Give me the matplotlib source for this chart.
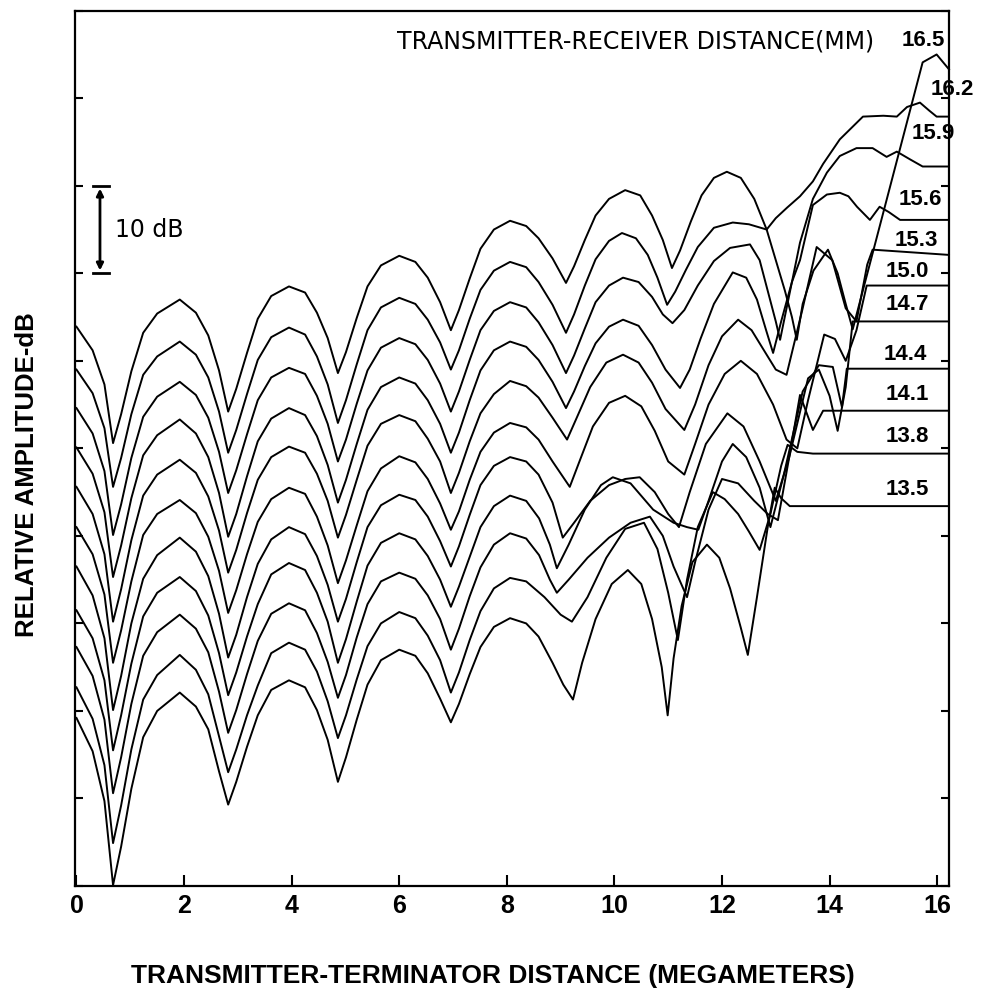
import matplotlib
matplotlib.use("Agg")
import matplotlib.pyplot as plt

# ---------------- data (x in megameters, y in dB, arbitrary reference) -------------
labels = ["16.5", "16.2", "15.9", "15.6", "15.3", "15.0", "14.7", "14.4", "14.1", "13.8", "13.5"]

x_left = [0.0, 0.3, 0.52, 0.68, 0.83, 1.02, 1.24, 1.5, 1.92, 2.22, 2.45, 2.65, 2.82,
          2.97, 3.17, 3.37, 3.62, 3.95, 4.25, 4.47, 4.67, 4.86,
          5.01, 5.21, 5.41, 5.66, 6.0, 6.3, 6.53, 6.76, 6.96,
          7.11, 7.31, 7.51, 7.76, 8.06, 8.36]

y_left_165 = [63.9, 61.2, 57.3, 50.6, 53.9, 58.8, 63.2, 65.4, 67.0, 65.5, 62.9, 58.9, 54.2,
              56.8, 60.9, 64.8, 67.4, 68.5, 67.8, 65.5, 62.6, 58.6,
              61.0, 64.9, 68.5, 70.9, 72.0, 71.3, 69.5, 66.7, 63.5,
              65.8, 69.4, 72.8, 75.0, 76.0, 75.4]
y_left_162 = [59.0, 56.3, 52.3, 45.6, 48.9, 53.9, 58.4, 60.5, 62.2, 60.7, 58.1, 54.2, 49.5,
              52.1, 56.2, 60.1, 62.7, 63.8, 63.0, 60.5, 57.3, 52.9,
              55.5, 59.6, 63.5, 66.1, 67.2, 66.5, 64.7, 62.1, 59.0,
              61.2, 64.8, 68.1, 70.3, 71.3, 70.7]
y_left_159 = [54.6, 51.7, 47.4, 40.1, 43.6, 48.9, 53.6, 55.9, 57.6, 56.1, 53.5, 49.6, 44.9,
              47.5, 51.6, 55.5, 58.1, 59.2, 58.5, 56.0, 52.8, 48.5,
              51.0, 55.1, 58.9, 61.5, 62.6, 61.9, 60.1, 57.4, 54.2,
              56.5, 60.1, 63.5, 65.7, 66.7, 66.1]
y_left_156 = [50.1, 47.1, 42.7, 35.3, 38.9, 44.3, 49.2, 51.5, 53.3, 51.7, 49.0, 44.9, 39.9,
              42.5, 46.8, 50.8, 53.4, 54.6, 53.8, 51.4, 48.1, 43.8,
              46.4, 50.5, 54.4, 57.0, 58.1, 57.4, 55.5, 52.8, 49.5,
              51.8, 55.5, 58.9, 61.2, 62.2, 61.6]
y_left_153 = [45.6, 42.5, 37.9, 30.2, 33.9, 39.5, 44.6, 47.0, 48.7, 47.2, 44.5, 40.6, 35.8,
              38.4, 42.6, 46.4, 49.0, 50.2, 49.5, 47.1, 44.0, 39.8,
              42.4, 46.4, 50.3, 52.8, 53.8, 53.1, 51.1, 48.5, 44.9,
              47.2, 50.8, 54.0, 56.2, 57.7, 57.1]
y_left_150 = [41.0, 37.9, 33.3, 25.5, 29.2, 34.8, 40.1, 42.5, 44.1, 42.6, 39.9, 36.0, 31.2,
              33.8, 37.9, 41.6, 44.2, 45.5, 44.8, 42.2, 38.9, 34.6,
              37.2, 41.2, 45.1, 47.7, 49.1, 48.4, 46.5, 43.7, 40.7,
              42.8, 46.4, 49.6, 51.8, 52.9, 52.4]
y_left_147 = [36.5, 33.2, 28.3, 20.1, 24.0, 30.0, 35.1, 37.8, 39.8, 38.2, 35.4, 31.1, 26.1,
              28.7, 33.0, 36.8, 39.6, 41.0, 40.2, 37.7, 34.4, 30.2,
              32.8, 37.0, 41.0, 43.5, 44.7, 44.1, 42.2, 39.4, 36.5,
              38.8, 42.4, 45.8, 48.0, 49.0, 48.5]
y_left_144 = [31.5, 28.3, 23.5, 15.5, 19.5, 25.4, 30.8, 33.5, 35.3, 33.7, 30.9, 26.6, 21.8,
              24.4, 28.5, 32.2, 35.6, 36.9, 36.1, 33.5, 30.2, 25.5,
              28.2, 32.5, 36.6, 39.2, 40.3, 39.6, 37.7, 35.0, 31.9,
              34.2, 37.6, 41.0, 43.4, 44.6, 44.0]
y_left_141 = [27.3, 24.0, 19.0, 10.6, 14.7, 20.8, 26.3, 29.0, 31.0, 29.4, 26.7, 22.2, 17.5,
              20.1, 24.2, 28.0, 31.1, 32.3, 31.5, 28.9, 25.6, 21.5,
              24.1, 28.4, 32.2, 34.8, 35.8, 35.1, 33.2, 30.5, 27.0,
              29.4, 33.1, 36.4, 39.0, 40.3, 39.7]
y_left_138 = [22.7, 19.1, 13.8, 4.9, 9.2, 15.6, 21.3, 24.1, 26.4, 24.7, 21.9, 17.1, 13.0,
              15.6, 19.5, 22.9, 26.6, 27.8, 27.0, 24.5, 21.1, 16.9,
              19.5, 23.6, 27.4, 30.0, 31.3, 30.6, 28.6, 25.8, 22.1,
              24.4, 28.1, 31.4, 34.0, 35.2, 34.8]
y_left_135 = [19.2, 15.4, 9.7, 0.1, 4.5, 11.1, 17.0, 20.0, 22.1, 20.5, 17.9, 13.1, 9.3,
              11.9, 15.9, 19.5, 22.4, 23.5, 22.7, 20.1, 16.7, 11.9,
              14.7, 19.0, 23.0, 25.8, 27.0, 26.3, 24.3, 21.4, 18.7,
              20.8, 24.2, 27.3, 29.6, 30.6, 30.0]

x_tail_165 = [8.59, 8.85, 9.10, 9.25, 9.45, 9.65, 9.9, 10.2, 10.48, 10.7, 10.9, 11.07, 11.22,
              11.42, 11.62, 11.85, 12.09, 12.35, 12.6, 12.83, 13.0, 13.17, 13.3, 13.39, 13.5,
              13.7, 13.97, 14.15, 14.3, 14.43, 15.73, 15.99, 16.22]
y_tail_165 = [74.0, 71.7, 68.9, 70.8, 73.8, 76.6, 78.5, 79.5, 78.9, 76.6, 73.8, 70.6, 72.6,
              75.9, 78.9, 80.9, 81.6, 80.9, 78.5, 75.0, 71.5, 68.0, 65.0, 62.4, 66.5,
              70.3, 72.7, 70.0, 66.5, 63.6, 94.1, 95.0, 93.3]
x_tail_162 = [8.59, 8.85, 9.10, 9.25, 9.45, 9.65, 9.9, 10.14, 10.4, 10.62, 10.8, 10.98, 11.13,
              11.33, 11.55, 11.85, 12.2, 12.5, 12.83, 13.0, 13.21, 13.45, 13.69, 13.88, 14.19,
              14.62, 15.0, 15.25, 15.44, 15.68, 15.85, 15.99, 16.22]
y_tail_162 = [69.0, 66.4, 63.2, 65.3, 68.6, 71.6, 73.7, 74.6, 74.0, 72.1, 69.5, 66.4, 67.9,
              70.4, 73.0, 75.2, 75.8, 75.6, 75.0, 76.3, 77.5, 78.8, 80.5, 82.5, 85.3,
              87.9, 88.0, 87.9, 89.0, 89.5, 88.6, 87.9, 87.9]
x_tail_159 = [8.59, 8.85, 9.10, 9.25, 9.45, 9.65, 9.9, 10.16, 10.45, 10.7, 10.9, 11.08, 11.3,
              11.55, 11.85, 12.15, 12.52, 12.7, 12.85, 13.0, 13.08, 13.25, 13.45, 13.69, 13.95,
              14.19, 14.5, 14.8, 15.06, 15.25, 15.5, 15.73, 16.22]
y_tail_159 = [64.4, 61.8, 58.6, 60.6, 63.7, 66.7, 68.6, 69.5, 69.0, 67.3, 65.3, 64.3, 65.8,
              68.6, 71.4, 72.9, 73.3, 71.5, 68.0, 64.5, 62.4, 67.5, 73.5, 78.5, 81.5,
              83.4, 84.3, 84.3, 83.3, 83.9, 83.0, 82.2, 82.2]
x_tail_156 = [8.59, 8.85, 9.10, 9.25, 9.45, 9.65, 9.9, 10.16, 10.45, 10.7, 10.95, 11.22, 11.4,
              11.6, 11.85, 12.2, 12.45, 12.65, 12.82, 12.95, 13.1, 13.3, 13.45, 13.69, 13.95,
              14.19, 14.35, 14.51, 14.75, 14.93, 15.1, 15.31, 16.22]
y_tail_156 = [60.1, 57.6, 54.6, 56.5, 59.4, 62.0, 63.9, 64.7, 64.0, 61.8, 59.0, 56.9, 59.0,
              62.5, 66.5, 70.1, 69.5, 67.0, 63.5, 60.9, 64.5, 69.0, 71.5, 77.8, 79.0,
              79.2, 78.8, 77.6, 76.1, 77.6, 77.0, 76.1, 76.1]
x_tail_153 = [8.59, 8.85, 9.12, 9.3, 9.55, 9.85, 10.16, 10.45, 10.7, 10.95, 11.3, 11.5, 11.75,
              12.0, 12.3, 12.55, 12.8, 13.0, 13.2, 13.5, 13.76, 14.05, 14.3, 14.5, 14.7,
              14.8, 16.22]
y_tail_153 = [55.8, 53.5, 51.0, 53.5, 57.0, 59.8, 60.7, 59.8, 57.5, 54.5, 52.1, 55.0, 59.5,
              62.8, 64.7, 63.5, 61.0, 59.0, 58.4, 66.0, 73.0, 71.5, 66.0, 64.5, 71.0,
              72.7, 72.1]
x_tail_150 = [8.59, 8.85, 9.17, 9.35, 9.6, 9.9, 10.2, 10.5, 10.75, 11.0, 11.3, 11.5, 11.75,
              12.05, 12.35, 12.65, 12.95, 13.2, 13.4, 13.6, 13.9, 14.1, 14.3, 14.5, 14.69,
              16.22]
y_tail_150 = [51.0, 48.5, 45.6, 48.5, 52.5, 55.2, 56.0, 54.8, 52.0, 48.5, 47.0, 50.5, 55.0,
              58.5, 60.0, 58.5, 55.0, 51.0, 50.0, 55.5, 63.0, 62.5, 60.0, 63.5, 68.6,
              68.6]
x_tail_147 = [8.59, 8.85, 9.04, 9.25, 9.55, 9.9, 10.2, 10.47, 10.75, 11.0, 11.2, 11.4, 11.7,
              12.1, 12.4, 12.7, 13.0, 13.25, 13.6, 13.8, 14.0, 14.15, 14.3, 14.43, 16.22]
y_tail_147 = [47.0, 43.8, 39.8, 41.5, 44.0, 45.8, 46.5, 46.7, 45.0, 42.5, 41.0, 45.0, 50.5,
              54.0, 52.5, 48.5, 44.0, 49.0, 58.0, 59.0, 56.0, 52.0, 57.0, 64.5, 64.5]
x_tail_144 = [8.6, 8.8, 8.93, 9.15, 9.45, 9.75, 9.97, 10.3, 10.72, 11.1, 11.35, 11.56, 11.75,
              12.0, 12.2, 12.45, 12.7, 12.9, 13.15, 13.5, 13.8, 14.06, 14.23, 14.32, 16.22]
y_tail_144 = [42.0, 39.0, 36.3, 39.0, 43.0, 45.8, 46.7, 46.0, 43.0, 41.5, 41.0, 40.7, 44.0,
              48.5, 50.5, 49.0, 45.5, 41.0, 47.0, 56.5, 59.5, 59.3, 54.7, 59.1, 59.1]
x_tail_141 = [8.6, 8.8, 8.93, 9.15, 9.5, 9.9, 10.3, 10.66, 10.9, 11.1, 11.35, 11.5, 11.75,
              12.0, 12.3, 12.6, 12.85, 13.04, 13.25, 13.45, 13.69, 13.88, 16.22]
y_tail_141 = [37.8, 35.0, 33.5, 35.0, 37.5, 39.8, 41.5, 42.2, 40.0, 36.5, 33.0, 37.0, 43.0,
              46.5, 46.0, 44.0, 42.5, 41.8, 49.0, 56.1, 52.1, 54.3, 54.3]
x_tail_138 = [8.7, 9.0, 9.21, 9.5, 9.85, 10.2, 10.55, 10.8, 11.0, 11.18, 11.35, 11.55, 11.83,
              12.05, 12.3, 12.5, 12.7, 12.9, 13.1, 13.22, 13.4, 13.69, 16.22]
y_tail_138 = [33.0, 31.0, 30.2, 33.0, 37.5, 40.8, 41.5, 38.5, 33.5, 28.1, 35.0, 41.0, 45.0,
              44.2, 42.5, 40.5, 38.4, 42.5, 48.0, 50.4, 49.6, 49.4, 49.4]
x_tail_135 = [8.59, 8.85, 9.05, 9.23, 9.4, 9.65, 9.95, 10.25, 10.5, 10.7, 10.88, 10.99, 11.1,
              11.25, 11.45, 11.72, 11.95, 12.15, 12.35, 12.48, 12.65, 12.85, 12.98, 13.1, 13.26,
              16.22]
y_tail_135 = [28.5, 25.5, 23.0, 21.3, 25.5, 30.5, 34.5, 36.1, 34.5, 30.5, 25.0, 19.5, 26.0,
              32.0, 37.0, 39.0, 37.5, 34.0, 29.5, 26.4, 33.0, 41.0, 45.5, 44.3, 43.4,
              43.4]

y_left_all = [y_left_165, y_left_162, y_left_159, y_left_156, y_left_153, y_left_150,
              y_left_147, y_left_144, y_left_141, y_left_138, y_left_135]
x_tail_all = [x_tail_165, x_tail_162, x_tail_159, x_tail_156, x_tail_153, x_tail_150,
              x_tail_147, x_tail_144, x_tail_141, x_tail_138, x_tail_135]
y_tail_all = [y_tail_165, y_tail_162, y_tail_159, y_tail_156, y_tail_153, y_tail_150,
              y_tail_147, y_tail_144, y_tail_141, y_tail_138, y_tail_135]

# label anchor positions (x in Mm, y in dB)
label_x = [15.75, 16.28, 15.92, 15.68, 15.62, 15.44, 15.44, 15.4, 15.44, 15.44, 15.44]
label_y = [96.6, 91.0, 86.0, 78.4, 73.8, 70.2, 66.4, 60.7, 56.1, 51.3, 45.3]

x_ticks = [0, 2, 4, 6, 8, 10, 12, 14, 16]
y_ticks = [0, 10, 20, 30, 40, 50, 60, 70, 80, 90, 100]

# ---------------- figure -------------------------------------------------------------
W, H = 983, 998
fig = plt.figure(figsize=(W / 100, H / 100), dpi=100)
ax = fig.add_axes([74.7 / W, 1 - 886 / H, (949 - 74.7) / W, (886 - 10.7) / H])
ax.set_xlim(-0.033, 16.22)
ax.set_ylim(0, 100)

sans = ["Liberation Sans", "DejaVu Sans"]
plain = ["DejaVu Sans"]

for yl, xt, yt in zip(y_left_all, x_tail_all, y_tail_all):
    ax.plot(list(x_left) + list(xt), list(yl) + list(yt), color="black", lw=1.4,
            solid_joinstyle="round", clip_on=False)

for lab, lx, ly in zip(labels, label_x, label_y):
    ax.text(lx, ly, lab, fontsize=16, fontweight="bold", family=sans,
            ha="center", va="center")

ax.text(5.96, 96.5, "TRANSMITTER-RECEIVER DISTANCE(MM)", fontsize=17, family=plain,
        ha="left", va="center")

# 10 dB scale bar
ax.annotate("", xy=(0.437, 80), xytext=(0.437, 70),
            arrowprops=dict(arrowstyle="<|-|>", lw=2, color="black", mutation_scale=10))
ax.plot([0.31, 0.6], [80, 80], color="black", lw=2)
ax.plot([0.31, 0.6], [70, 70], color="black", lw=2)
ax.text(0.72, 75, "10 dB", fontsize=17, family=plain, ha="left", va="center")

ax.set_xticks(x_ticks)
ax.set_xticklabels([str(v) for v in x_ticks], fontsize=18, fontweight="bold", family=sans)
ax.set_yticks(y_ticks)
ax.set_yticklabels([])
ax.tick_params(axis="x", direction="in", length=8, width=1.5, pad=6, top=False)
ax.tick_params(axis="y", direction="in", length=6, width=1.5, left=True, right=True)
for s in ax.spines.values():
    s.set_linewidth(1.6)

fig.text(493 / W, 1 - 976 / H, "TRANSMITTER-TERMINATOR DISTANCE (MEGAMETERS)",
         fontsize=19, fontweight="bold", family=sans, ha="center", va="center")
fig.text(27 / W, 1 - 475 / H, "RELATIVE AMPLITUDE-dB", fontsize=18.5, fontweight="bold",
         family=sans, ha="center", va="center", rotation=90)

fig.savefig("out.png", dpi=100)
